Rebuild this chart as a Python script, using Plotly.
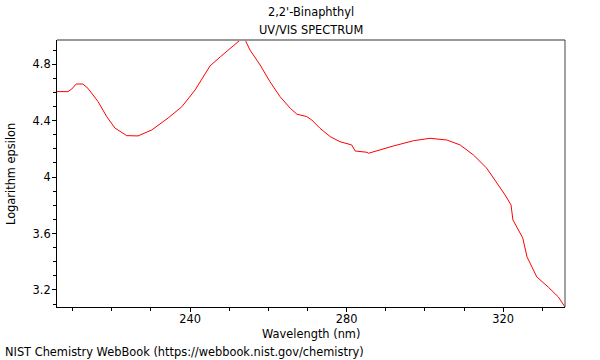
import plotly.graph_objects as go

wavelength_nm = [206.0, 208.8, 209.8, 210.9, 212.6, 213.9, 216.5, 218.7, 220.8, 223.8,
                 226.7, 230.2, 234.4, 237.9, 241.3, 243.3, 245.1, 247.7, 250.2, 252.0,
                 252.8, 254.1, 255.3, 257.9, 260.4, 263.0, 265.6, 267.3, 269.8, 271.1,
                 273.2, 275.8, 278.3, 281.3, 282.2, 285.2, 285.6, 292.0, 297.1, 301.3,
                 305.6, 309.0, 312.4, 315.8, 318.8, 320.5, 322.0, 322.5, 325.0, 326.1,
                 328.6, 331.5, 334.1, 335.8]
log_epsilon = [4.606, 4.606, 4.625, 4.660, 4.660, 4.630, 4.535, 4.429, 4.348, 4.294,
               4.292, 4.334, 4.419, 4.499, 4.618, 4.712, 4.788, 4.852, 4.908, 4.951,
               4.972, 4.972, 4.901, 4.795, 4.677, 4.570, 4.488, 4.446, 4.429, 4.405,
               4.346, 4.287, 4.251, 4.228, 4.185, 4.176, 4.169, 4.221, 4.258, 4.275,
               4.263, 4.228, 4.157, 4.063, 3.944, 3.873, 3.803, 3.696, 3.569, 3.434,
               3.292, 3.221, 3.150, 3.079]

x_ticks = [240, 280, 320]
x_tick_labels = ["240", "280", "320"]
y_ticks = [3.2, 3.6, 4.0, 4.4, 4.8]
y_tick_labels = ["3.2", "3.6", "4", "4.4", "4.8"]

title_line1 = "2,2'-Binaphthyl"
title_line2 = "UV/VIS SPECTRUM"
x_title = "Wavelength (nm)"
y_title = "Logarithm epsilon"
credit = "NIST Chemistry WebBook (https://webbook.nist.gov/chemistry)"

font = "DejaVu Sans, sans-serif"
txt = dict(family=font, size=11.4, color="black")

fig = go.Figure()
fig.add_trace(go.Scatter(x=wavelength_nm, y=log_epsilon, mode="lines",
                         line=dict(color="#ff0000", width=1), hoverinfo="x+y"))

fig.update_layout(
    width=600, height=360,
    margin=dict(l=57, r=35, t=40, b=53, autoexpand=False),
    paper_bgcolor="white", plot_bgcolor="white",
    showlegend=False,
    font=txt,
    xaxis=dict(range=[206.0, 335.8], tickvals=x_ticks, ticktext=x_tick_labels,
               automargin=False, ticklabelstandoff=-3,
               ticks="outside", ticklen=4, tickcolor="black", showgrid=False,
               zeroline=False, showline=True, linecolor="black", linewidth=1,
               minor=dict(dtick=10, tick0=200, ticks="outside", ticklen=3, tickcolor="black", showgrid=False),
               tickfont=txt),
    yaxis=dict(range=[3.079, 4.972], tickvals=y_ticks, ticktext=y_tick_labels,
               automargin=False, ticklabelstandoff=-1,
               ticks="outside", ticklen=4, tickcolor="black", showgrid=False,
               zeroline=False, showline=True, linecolor="black", linewidth=1,
               minor=dict(dtick=0.1, tick0=3.0, ticks="outside", ticklen=3, tickcolor="black", showgrid=False),
               tickfont=txt),
    shapes=[
        dict(type="line", xref="paper", yref="paper", x0=0, x1=1, y0=1, y1=1,
             line=dict(color="#999999", width=2)),
        dict(type="line", xref="paper", yref="paper", x0=1, x1=1, y0=0, y1=1,
             line=dict(color="#444444", width=1)),
    ],
    annotations=[
        dict(text=title_line1, xref="paper", yref="paper", x=0.5, y=1.105,
             xanchor="center", yanchor="middle", showarrow=False, font=txt),
        dict(text=title_line2, xref="paper", yref="paper", x=0.5, y=1.037,
             xanchor="center", yanchor="middle", showarrow=False, font=txt),
        dict(text=x_title, xref="paper", yref="paper", x=0.5, y=-0.1,
             xanchor="center", yanchor="middle", showarrow=False, font=txt),
        dict(text=y_title, xref="paper", yref="paper", x=-0.0906, y=0.498, textangle=-90,
             xanchor="center", yanchor="middle", showarrow=False, font=txt),
        dict(text=credit, xref="paper", yref="paper", x=-0.106, y=-0.1685,
             xanchor="left", yanchor="middle", showarrow=False, font=txt),
    ],
)

fig.write_html("out.html", config={"displayModeBar": False},
               post_script="document.body.style.margin='0';")
